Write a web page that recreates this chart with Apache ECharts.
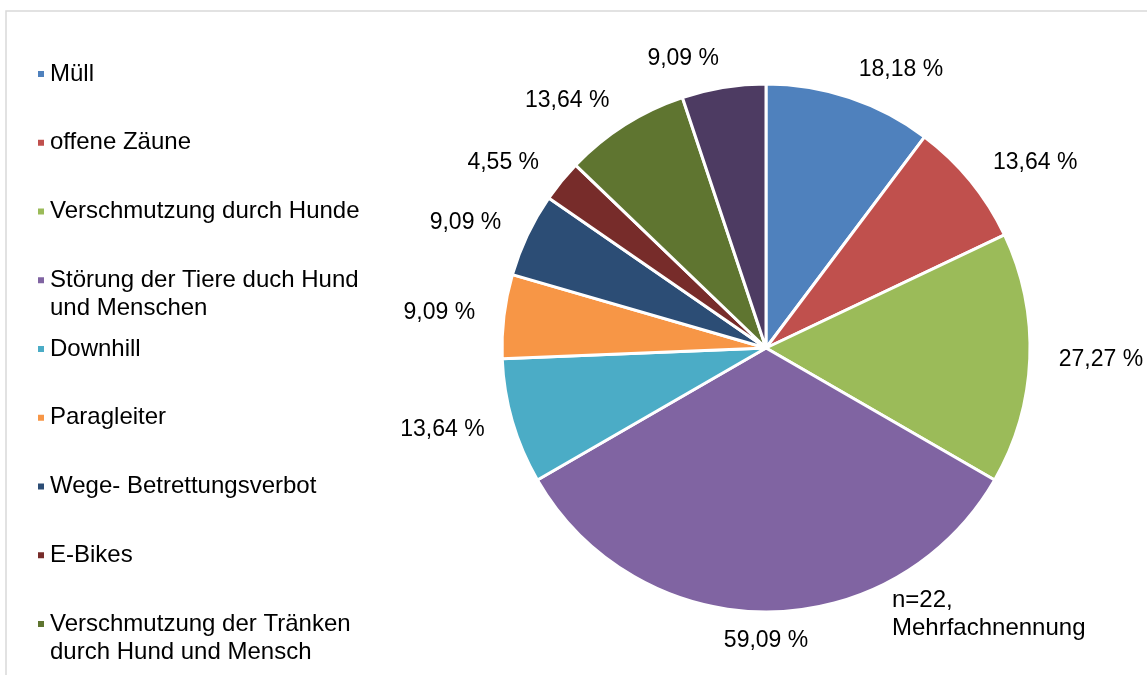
<!DOCTYPE html>
<html>
<head>
<meta charset="utf-8">
<script src="https://cdn.jsdelivr.net/npm/echarts@6/dist/echarts.min.js"></script>
<style>
  html, body { margin: 0; padding: 0; background: #ffffff; }
  #chart { width: 1147px; height: 675px; }
</style>
</head>
<body>
<div id="chart"></div>
<script>
// Genannte Probleme (Mehrfachnennung möglich), Anteil in Prozent
const categories = [
  'Müll',
  'offene Zäune',
  'Verschmutzung durch Hunde',
  'Störung der Tiere duch Hund\nund Menschen',
  'Downhill',
  'Paragleiter',
  'Wege- Betrettungsverbot',
  'E-Bikes',
  'Verschmutzung der Tränken\ndurch Hund und Mensch',
  'Sonstiges'
];
const shares = [18.18, 13.64, 27.27, 59.09, 13.64, 9.09, 9.09, 4.55, 13.64, 9.09];
const palette = ['#4F81BD', '#C0504D', '#9BBB59', '#8064A2', '#4BACC6',
                 '#F79646', '#2C4D75', '#772C2A', '#5F7530', '#4D3B62'];
const noteText = 'n=22,\nMehrfachnennung';

const FONT = '"Liberation Sans", Arial, sans-serif';
const CX = 766, CY = 348, R = 264;

const fmtPct = v => v.toFixed(2).replace('.', ',') + ' %';

const chart = echarts.init(document.getElementById('chart'), null, { renderer: 'canvas' });

chart.setOption({
  backgroundColor: '#ffffff',
  animation: false,
  color: palette,
  graphic: [{
    type: 'rect',
    shape: { x: 6, y: 11, width: 2000, height: 2000 },
    style: { fill: 'none', stroke: '#d9d9d9', lineWidth: 1.5 },
    silent: true
  }],
  title: {
    text: noteText,
    left: 892,
    top: 586,
    padding: 0,
    textStyle: { fontFamily: FONT, fontSize: 24, fontWeight: 'normal', color: '#000', lineHeight: 28 }
  },
  legend: {
    orient: 'vertical',
    left: 36,
    top: 32,
    height: 2000,
    padding: 0,
    itemGap: -15.25,
    itemWidth: 8,
    itemHeight: 8,
    icon: 'rect',
    data: categories,
    // every entry spans three text rows so the first text row sits level with the marker
    formatter: name => name.indexOf('\n') >= 0 ? '\n' + name : '\n' + name + '\n',
    textStyle: { fontFamily: FONT, fontSize: 24, color: '#000', lineHeight: 28 }
  },
  series: [{
    type: 'pie',
    left: 0, top: 0, width: 1600, height: 675,
    center: [CX, CY],
    radius: R,
    startAngle: 90,
    clockwise: true,
    avoidLabelOverlap: true,
    itemStyle: { borderColor: '#ffffff', borderWidth: 3 },
    label: {
      show: true,
      position: 'outside',
      formatter: p => fmtPct(p.value),
      fontFamily: FONT,
      fontSize: 23,
      color: '#000',
      distanceToLabelLine: 0,
      bleedMargin: 0
    },
    labelLine: { show: false, length: 29, length2: 0 },
    labelLayout: p => (p.labelRect.y > CY + R ? { align: 'center' } : {}),
    emphasis: { disabled: true },
    data: categories.map((name, i) => ({ name: name, value: shares[i] }))
  }]
});
</script>
</body>
</html>
